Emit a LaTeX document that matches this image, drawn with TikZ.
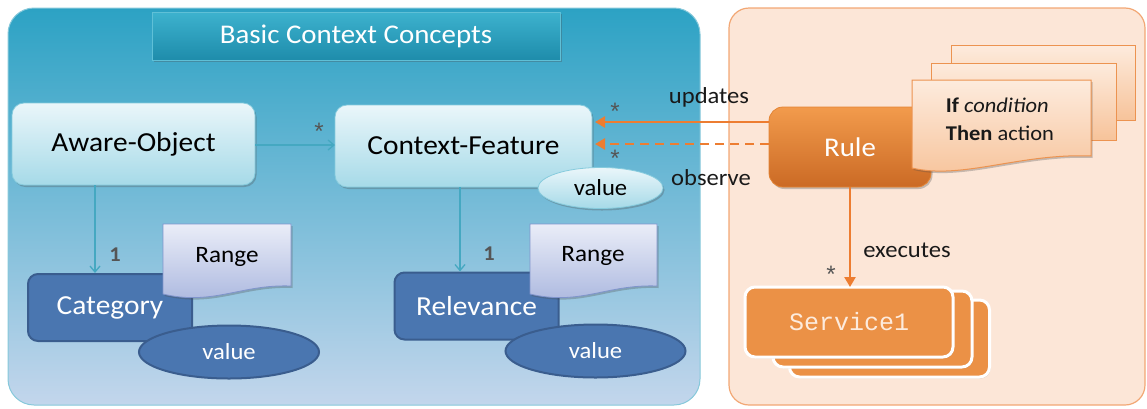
\documentclass[tikz,border=0pt]{standalone}
\usepackage{fontspec}
\setmainfont{Carlito}[FakeStretch=1.07]
\newfontfamily\monofam{Liberation Mono}
\usetikzlibrary{arrows.meta,shadows,shapes.geometric,calc}

\definecolor{panelTop}{HTML}{2CA2C4}
\definecolor{panelMid}{HTML}{62B5D2}
\definecolor{panelBot}{HTML}{C3D6EC}
\definecolor{panelEdge}{HTML}{86C8DA}
\definecolor{titleTop}{HTML}{3DB2CE}
\definecolor{titleBot}{HTML}{1E8CAB}
\definecolor{titleEdge}{HTML}{5FC0D7}
\definecolor{lightTop}{HTML}{EAF6FA}
\definecolor{lightBot}{HTML}{A6DAE8}
\definecolor{lightEdge}{HTML}{86CBDD}
\definecolor{darkFill}{HTML}{4A76B0}
\definecolor{darkEdge}{HTML}{3A5D8E}
\definecolor{rangeTop}{HTML}{EAEDF8}
\definecolor{rangeBot}{HTML}{A9B6DE}
\definecolor{rangeEdge}{HTML}{8094CC}
\definecolor{tealLine}{HTML}{45A8C1}
\definecolor{starGray}{HTML}{555555}
\definecolor{rpanelFill}{HTML}{FCE6D7}
\definecolor{rpanelEdge}{HTML}{F2A774}
\definecolor{ruleTop}{HTML}{F29B4C}
\definecolor{ruleBot}{HTML}{CB6A25}
\definecolor{ruleEdge}{HTML}{E38434}
\definecolor{docTop}{HTML}{FDEBDD}
\definecolor{docBot}{HTML}{F7C39A}
\definecolor{docEdge}{HTML}{EC9350}
\definecolor{svcFill}{HTML}{EB9146}
\definecolor{svcText}{HTML}{FDEBDD}
\definecolor{orangeLine}{HTML}{ED7D31}

\tikzset{
  every node/.style={inner sep=0pt, outer sep=0pt},
  softshadow/.style={drop shadow={shadow xshift=1.5pt, shadow yshift=-2pt, opacity=0.3, fill=black!70}},
  titlebox/.style={draw=titleEdge, line width=0.8pt, top color=titleTop, bottom color=titleBot,
    minimum width=408pt, minimum height=48pt, text=white, font=\fontsize{27}{30}\selectfont, softshadow},
  lightbox/.style={draw=lightEdge, line width=0.8pt, rounded corners=12pt, top color=lightTop,
    bottom color=lightBot, minimum width=243pt, minimum height=82pt, font=\fontsize{27.5}{32}\selectfont, softshadow},
  lightoval/.style={ellipse, draw=lightEdge, line width=0.8pt, top color=lightTop, bottom color=lightBot,
    minimum width=125pt, minimum height=41pt, font=\fontsize{23}{28}\selectfont, softshadow},
  darkbox/.style={draw=darkEdge, line width=2pt, rounded corners=10pt, fill=darkFill, text=white,
    minimum width=164pt, minimum height=67pt, font=\fontsize{27.5}{32}\selectfont},
  darkoval/.style={ellipse, draw=darkEdge, line width=2pt, fill=darkFill, text=white,
    minimum width=180pt, minimum height=53pt, font=\fontsize{23}{28}\selectfont},
  rangedoc/.style={draw=rangeEdge, line width=0.8pt, top color=rangeTop, bottom color=rangeBot, softshadow},
  doctext/.style={font=\fontsize{23.5}{28}\selectfont},
  tealconn/.style={draw=tealLine, line width=1.3pt, -{Straight Barb[length=6pt,width=10pt]}},
  oarrow/.style={draw=orangeLine, line width=2.4pt, -{Triangle[length=10pt,width=11pt]}},
  mult/.style={text=starGray, font=\monofam\fontsize{24}{28}\selectfont},
  multone/.style={text=starGray, font=\bfseries\fontsize{21}{26}\selectfont},
  lbl/.style={text=black!90, font=\fontsize{23}{28}\selectfont},
  rulebox/.style={draw=ruleEdge, line width=0.8pt, rounded corners=14pt, top color=ruleTop, bottom color=ruleBot,
    text=white, minimum width=162pt, minimum height=80pt, font=\fontsize{27}{32}\selectfont, softshadow},
  ruledoc/.style={draw=docEdge, line width=1pt, top color=docTop, bottom color=docBot},
  svcbox/.style={draw=white, line width=3pt, rounded corners=10pt, fill=svcFill,
    drop shadow={shadow xshift=1pt, shadow yshift=-1.5pt, opacity=0.25, fill=black!60}},
}

\begin{document}
\begin{tikzpicture}[x=1pt, y=-1pt]
\useasboundingbox (0,0) rectangle (1147,408);

% background panels
\draw[draw=panelEdge, line width=1pt, rounded corners=26pt,
      top color=panelTop, middle color=panelMid, bottom color=panelBot] (8,8) rectangle (700,405);
\draw[draw=rpanelEdge, line width=1.2pt, rounded corners=20pt, fill=rpanelFill] (729,8) rectangle (1145,405);

% title banner
\node[titlebox] (title) at (356,36) {Basic Context Concepts};

% concept boxes
\node[lightbox] (ao) at (133.5,144) {Aware-Object};
\node[lightbox, minimum width=257pt] (cf) at (463.5,146) {Context-Feature};
\node[lightoval] (cfval) at (600.5,188) {value};

% Category with its range and value
\node[darkbox] (cat) at (110,307.5) {Category};
\begin{scope}[shift={(163,224)}]
  \path[rangedoc] (0,0) -- (128,0) -- (128,62) .. controls (78,60) and (50,82) .. (0,70) -- cycle;
\end{scope}
\node[doctext] (rng1) at (227,257) {Range};
\node[darkoval] (catval) at (229,352) {value};

% Relevance with its range and value
\node[darkbox] (rel) at (476.5,306) {Relevance};
\begin{scope}[shift={(530,224)}]
  \path[rangedoc] (0,0) -- (127,0) -- (127,62) .. controls (77,60) and (50,82) .. (0,70) -- cycle;
\end{scope}
\node[doctext] (rng2) at (593,256) {Range};
\node[darkoval] (relval) at (595.5,351) {value};

% associations inside the context model
\coordinate (acY) at (0,145);
\coordinate (d1) at (95,0);
\coordinate (d2) at (460,0);
\draw[tealconn] (ao.east |- acY) -- (cf.west |- acY);
\draw[tealconn] (ao.south -| d1) -- ([yshift=1pt]cat.north -| d1);
\draw[tealconn] (cf.south -| d2) -- ([yshift=1pt]rel.north -| d2);
\node[mult] (m1) at (319,132) {*};
\node[multone] (m2) at (115,255) {1};
\node[multone] (m3) at (489,254) {1};

% rule document stack
\path[ruledoc] (951,45) rectangle (1135,120);
\path[ruledoc] (931,63) rectangle (1116,140);

% rule
\node[rulebox] (rule) at (850,147) {Rule};
\path[ruledoc, softshadow] (912,80) -- (1091,80) -- (1091,156) .. controls (1020,153) and (962,180) .. (912,168) -- cycle;
\node[align=left, text=black!90, font=\fontsize{21}{28}\selectfont] (cond) at (1000,119)
  {\textbf{If} \textit{condition}\\\textbf{Then} action};

% services
\node[svcbox, minimum width=200pt, minimum height=77pt] (svc3) at (889.5,338.5) {};
\node[svcbox, minimum width=199pt, minimum height=76pt] (svc2) at (872.5,329) {};
\node[svcbox, minimum width=208pt, minimum height=70pt, text=svcText,
      font=\monofam\fontsize{25}{28}\selectfont] (svc) at (849,322) {Service1};

% rule connectors
\coordinate (upY) at (0,122);
\coordinate (obY) at (0,144);
\draw[oarrow] (rule.west |- upY) -- ([xshift=3pt]cf.east |- upY);
\draw[oarrow, dash pattern=on 9pt off 6pt] (rule.west |- obY) -- ([xshift=3pt]cf.east |- obY);
\draw[oarrow] (rule.south) -- (rule.south |- svc.north);

\node[lbl] (lup) at (709,97) {updates};
\node[lbl] (lob) at (711,178) {observe};
\node[lbl] (lex) at (907,250) {executes};
\node[mult] (m4) at (615,112) {*};
\node[mult] (m5) at (615,159) {*};
\node[mult] (m6) at (831,275) {*};
\end{tikzpicture}
\end{document}
